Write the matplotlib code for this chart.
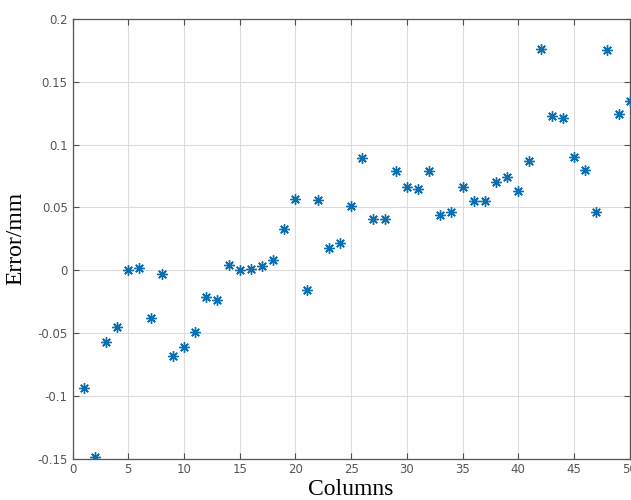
import matplotlib
matplotlib.use("Agg")
import matplotlib.pyplot as plt

columns = list(range(1, 51))
errors = [-0.094, -0.149, -0.057, -0.045, 0.000, 0.002, -0.038, -0.003, -0.068, -0.061,
          -0.049, -0.021, -0.024, 0.004, 0.000, 0.001, 0.003, 0.008, 0.033, 0.057,
          -0.016, 0.056, 0.018, 0.022, 0.051, 0.089, 0.041, 0.041, 0.079, 0.066,
          0.065, 0.079, 0.044, 0.046, 0.066, 0.055, 0.055, 0.070, 0.074, 0.063,
          0.087, 0.176, 0.123, 0.121, 0.090, 0.080, 0.046, 0.175, 0.124, 0.135]
xticks = [0, 5, 10, 15, 20, 25, 30, 35, 40, 45, 50]
yticks = [-0.15, -0.1, -0.05, 0, 0.05, 0.1, 0.15, 0.2]
ytick_labels = ["-0.15", "-0.1", "-0.05", "0", "0.05", "0.1", "0.15", "0.2"]

fig = plt.figure(figsize=(6.31, 5.0), dpi=100)
ax = fig.add_axes([0.115, 0.083, 0.883, 0.879])
ax.plot(columns, errors, linestyle="none", marker=(8, 2, 0), markersize=7.5,
        color="#0a6fb0", markeredgewidth=1.0, zorder=3)
ax.set_xlim(0, 50)
ax.set_ylim(-0.15, 0.2)
ax.set_xticks(xticks)
ax.set_xticklabels([str(t) for t in xticks])
ax.set_yticks(yticks)
ax.set_yticklabels(ytick_labels)
ax.grid(True, color="#dcdcdc", linewidth=0.8)
ax.set_axisbelow(True)
ax.tick_params(direction="in", top=True, right=True, length=4, width=0.8,
               colors="#4d4d4d", labelsize=8.5, labelcolor="#555555")
for s in ax.spines.values():
    s.set_color("#555555")
    s.set_linewidth(0.9)
ax.set_xlabel("Columns", fontfamily="Liberation Serif", fontsize=17, labelpad=2)
ax.set_ylabel("Error/mm", fontfamily="Liberation Serif", fontsize=17, labelpad=8)
fig.savefig("out.png", dpi=100)
